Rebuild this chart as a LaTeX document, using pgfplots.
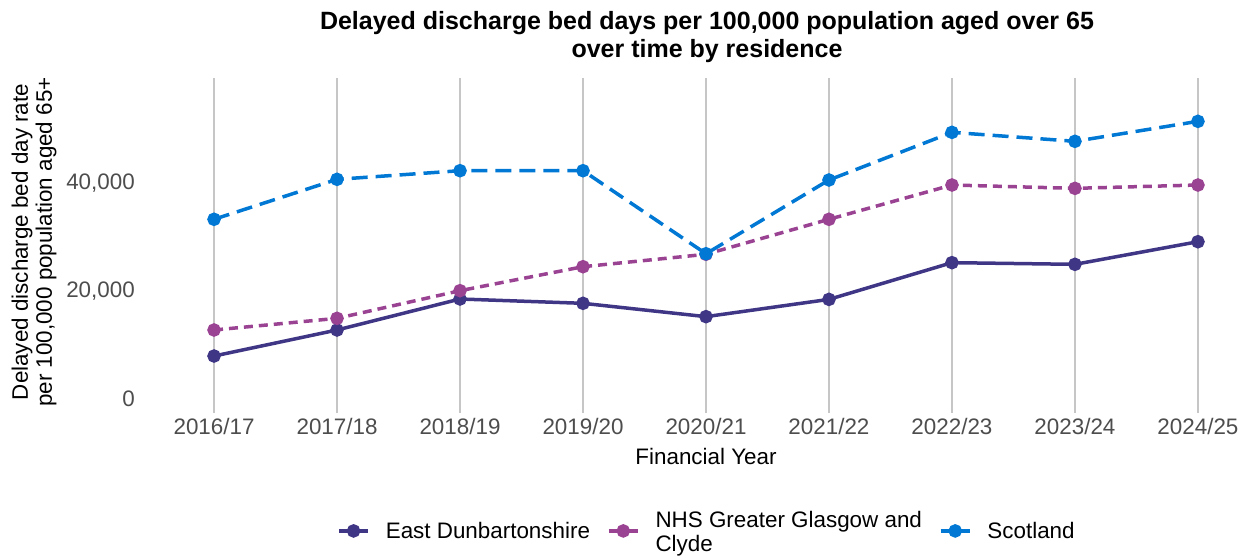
\documentclass[border=0pt]{standalone}
\usepackage{fontspec}
\setmainfont{Liberation Sans}
\usepackage{pgfplots}
\pgfplotsset{compat=1.18}
\definecolor{edcol}{HTML}{3F3685}
\definecolor{ggccol}{HTML}{9B4393}
\definecolor{scocol}{HTML}{0078D4}
\definecolor{gridcol}{HTML}{C6C6C6}
\definecolor{tickcol}{HTML}{4D4D4D}
\begin{document}
\begin{tikzpicture}
\begin{axis}[
  at={(171pt,-413pt)}, anchor=south west,
  scale only axis, width=1070pt, height=335pt,
  xmin=-0.35, xmax=8.35, ymin=-2593, ymax=59444,
  axis line style={draw=none},
  major tick style={draw=none},
  scaled y ticks=false,
  xtick={0,...,8},
  xticklabels={2016/17,2017/18,2018/19,2019/20,2020/21,2021/22,2022/23,2023/24,2024/25},
  ytick={0,20000,40000},
  yticklabels={0,{20,000},{40,000}},
  xmajorgrids, grid style={gridcol, line width=1.6pt},
  tick label style={font=\fontsize{22.4}{26}\selectfont, text=tickcol, inner sep=0pt},
  xticklabel style={anchor=north, yshift=-5pt},
  yticklabel style={anchor=east, xshift=-36pt},
  legend style={
    at={(0.5,-0.352)}, anchor=center, draw=none, fill=none,
    legend columns=3,
    font=\fontsize{22.4}{24}\selectfont,
    inner sep=0pt,
    nodes={inner sep=0pt},
    /tikz/every odd column/.append style={column sep=16pt},
    /tikz/every even column/.append style={column sep=17pt},
  },
  legend cell align=left,
  legend image code/.code={\draw[mark repeat=2,mark phase=2,#1,solid] plot coordinates {(0pt,0pt) (14.5pt,0pt) (29pt,0pt)};},
]
\addplot[edcol, line width=3.5pt, mark=*, mark size=5pt, mark options={solid}]
  coordinates {(0,7960) (1,12780) (2,18520) (3,17720) (4,15250) (5,18450) (6,25250) (7,24940) (8,29130)};
\addlegendentry{East Dunbartonshire}
\addplot[ggccol, line width=3.5pt, dash pattern=on 9pt off 6pt, mark=*, mark size=5pt, mark options={solid}]
  coordinates {(0,12780) (1,14940) (2,20060) (3,24500) (4,26800) (5,33280) (6,39630) (7,39010) (8,39630)};
\addlegendentry{\raisebox{9pt}{\begin{tabular}{@{}l@{}}NHS Greater Glasgow and\\Clyde\end{tabular}}}
\addplot[scocol, line width=3.5pt, dash pattern=on 16pt off 8pt, mark=*, mark size=5pt, mark options={solid}]
  coordinates {(0,33280) (1,40680) (2,42280) (3,42280) (4,26900) (5,40560) (6,49380) (7,47720) (8,51420)};
\addlegendentry{Scotland}
\end{axis}
\node[font=\bfseries\fontsize{25}{28}\selectfont, align=center] at (707pt,-37pt)
  {Delayed discharge bed days per 100,000 population aged over 65\\over time by residence};
\node[font=\fontsize{22.4}{26}\selectfont] at (706pt,-456pt) {Financial Year};
\node[font=\fontsize{22.4}{24}\selectfont, align=center, rotate=90] at (34pt,-242pt)
  {Delayed discharge bed day rate\\per 100,000 population aged 65+};
\pgfresetboundingbox
\path (0pt,0pt) rectangle (1252pt,-555pt);
\end{tikzpicture}
\end{document}
